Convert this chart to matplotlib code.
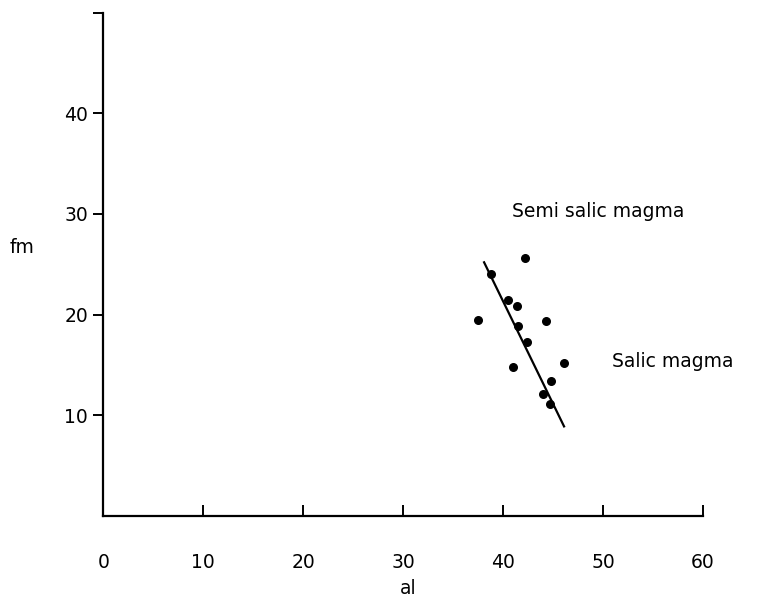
import matplotlib
matplotlib.use("Agg")
import matplotlib.pyplot as plt

# al / fm values
al = [42.2, 38.8, 40.5, 41.4, 37.5, 44.3, 41.5, 42.4, 41.0, 46.1, 44.8, 44.0, 44.7]
fm = [25.6, 24.0, 21.5, 20.9, 19.5, 19.4, 18.9, 17.3, 14.8, 15.2, 13.4, 12.1, 11.1]

# hand-drawn trend line, end points
trend_al = [38.1, 46.1]
trend_fm = [25.2, 8.9]

x_ticks = [0, 10, 20, 30, 40, 50, 60]
y_ticks = [10, 20, 30, 40, 50]
y_tick_labels = ["10", "20", "30", "40", ""]

plt.rcParams["font.family"] = ["DejaVu Sans"]
FS = 13.5

fig = plt.figure(figsize=(7.76, 6.03), dpi=100)
ax = fig.add_axes([0.1331, 0.1443, 0.7728, 0.8347])

ax.scatter(al, fm, s=30, color="black", zorder=3)
ax.plot(trend_al, trend_fm, color="black", lw=1.6)

ax.set_xlim(0, 60)
ax.set_ylim(0, 50)

ax.spines["top"].set_visible(False)
ax.spines["right"].set_visible(False)
ax.spines["left"].set_linewidth(1.6)
ax.spines["bottom"].set_linewidth(1.6)

ax.set_xticks(x_ticks)
ax.set_xticklabels([str(t) for t in x_ticks])
ax.set_yticks(y_ticks)
ax.set_yticklabels(y_tick_labels)
ax.tick_params(axis="x", direction="in", length=8, width=1.4, pad=27, labelsize=FS)
ax.tick_params(axis="y", direction="out", length=7, width=1.4, pad=4, labelsize=FS)

ax.set_xlabel("al", fontsize=FS)
ax.xaxis.set_label_coords(0.508, -0.126)
ax.set_ylabel("fm", fontsize=FS, rotation=0, ha="center", va="center")
ax.yaxis.set_label_coords(-0.1356, 0.534)

ax.text(40.9, 30.2, "Semi salic magma", fontsize=FS, va="center", ha="left")
ax.text(50.9, 15.3, "Salic magma", fontsize=FS, va="center", ha="left")

fig.savefig("out.png", dpi=100)
